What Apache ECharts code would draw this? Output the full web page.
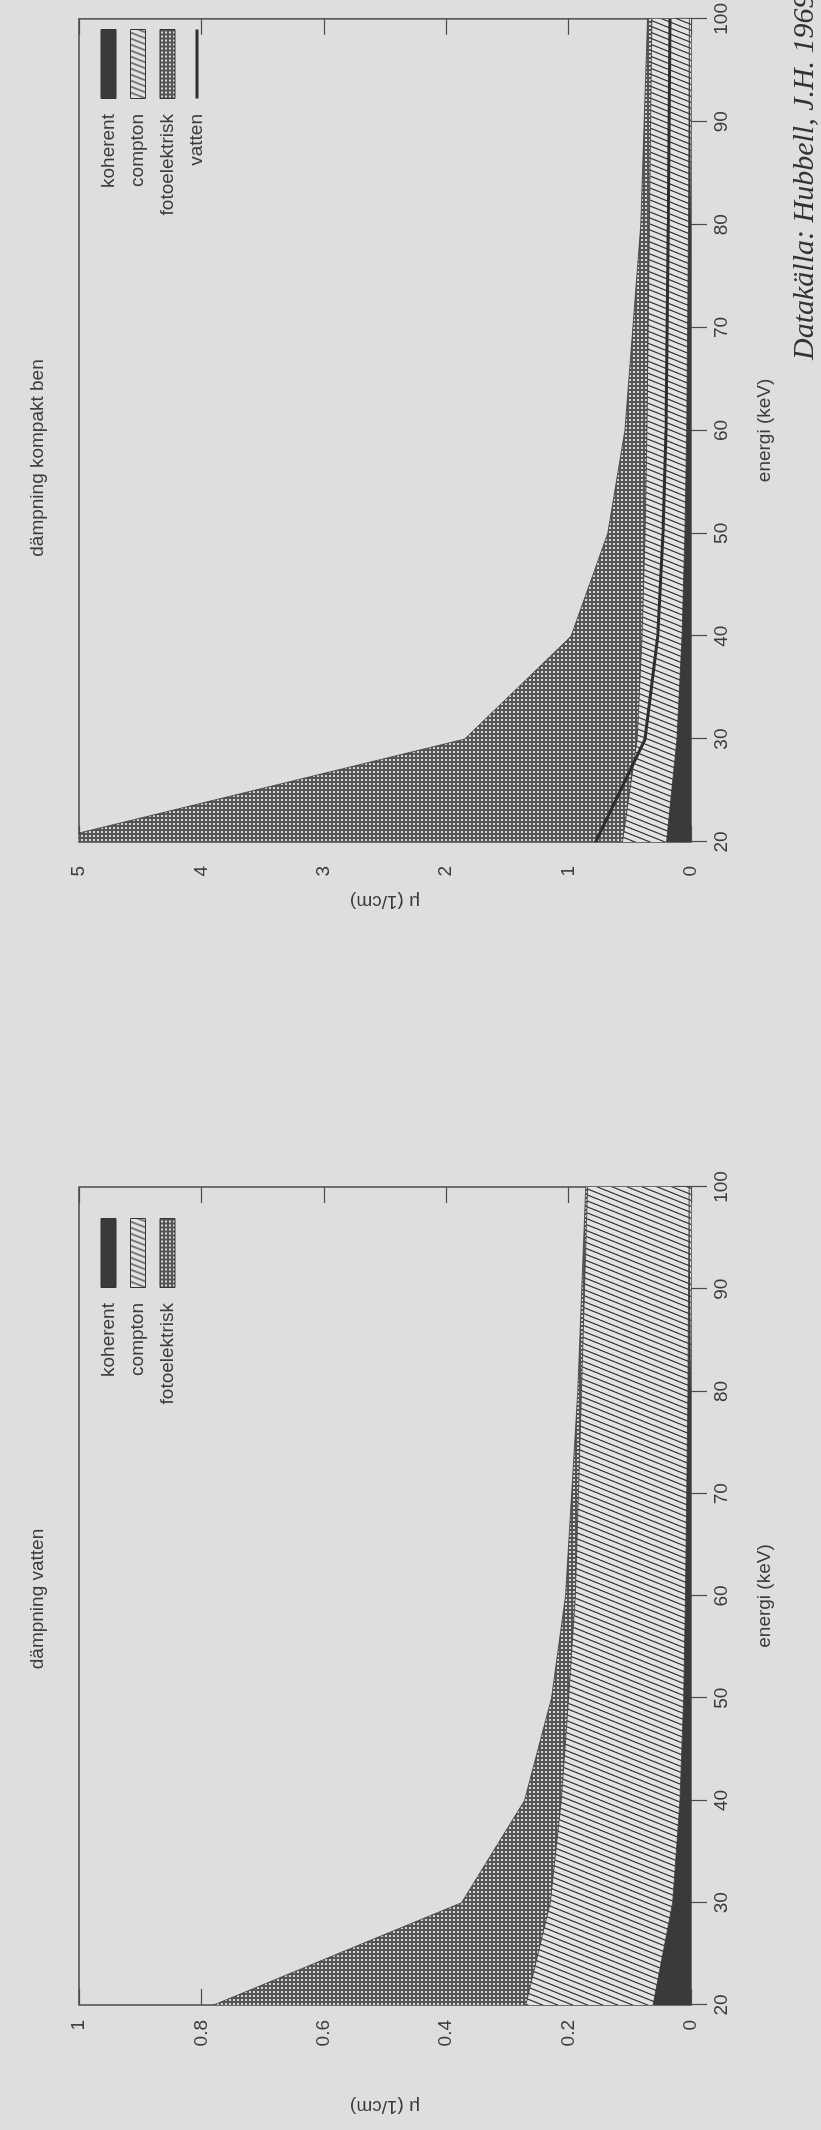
<!DOCTYPE html>
<html><head><meta charset="utf-8">
<script src="https://cdn.jsdelivr.net/npm/echarts@6/dist/echarts.min.js"></script>
<style>
html,body{margin:0;padding:0;width:821px;height:2130px;overflow:hidden;background:#dcdee0;}
#rot{position:absolute;left:0;top:0;width:2130px;height:821px;transform-origin:0 0;transform:translate(0px,2130px) rotate(-90deg);}
</style></head><body>
<div id="rot"></div>
<script>
// energies (keV)
const energi = [20, 30, 40, 50, 60, 80, 100];
// water (1/cm)
const vattenKoherent = [0.062, 0.030, 0.018, 0.012, 0.009, 0.005, 0.003];
const vattenCompton  = [0.208, 0.200, 0.194, 0.188, 0.180, 0.174, 0.166];
const vattenFoto     = [0.510, 0.145, 0.060, 0.028, 0.016, 0.006, 0.003];
// compact bone (1/cm)
const benKoherent = [0.200, 0.115, 0.073, 0.050, 0.035, 0.020, 0.013];
const benCompton  = [0.360, 0.325, 0.327, 0.325, 0.325, 0.320, 0.307];
const benFoto     = [4.740, 1.410, 0.580, 0.305, 0.180, 0.070, 0.035];
const vattenTotal = [0.780, 0.375, 0.272, 0.228, 0.205, 0.185, 0.172];
const titles = ['dämpning vatten', 'dämpning kompakt ben'];
const legendNames = ['koherent', 'compton', 'fotoelektrisk', 'vatten'];

function hatch() {
  const c = document.createElement('canvas'); c.width = 6; c.height = 15;
  const g = c.getContext('2d');
  g.fillStyle = '#e2e3e4'; g.fillRect(0, 0, 6, 15);
  g.strokeStyle = '#2e2e2e'; g.lineWidth = 1.2;
  for (const o of [-6, 0, 6]) { g.beginPath(); g.moveTo(o, 15); g.lineTo(o + 6, 0); g.stroke(); }
  return { image: c, repeat: 'repeat' };
}
function dots() {
  const c = document.createElement('canvas'); c.width = 4; c.height = 4;
  const g = c.getContext('2d');
  g.fillStyle = '#555'; g.fillRect(0, 0, 4, 4);
  g.fillStyle = '#d6d6d6'; g.fillRect(1, 1, 2, 2);
  return { image: c, repeat: 'repeat' };
}
const patC = hatch(), patF = dots();
const KOH = '#3a3a3a';
const FONT = '"Liberation Sans", Arial, sans-serif';
const TXT = '#3c3c3c';
// stacked band tops (sums of the read components)
const cum = (...arrs) => energi.map((e, i) => arrs.reduce((s, a) => s + a[i], 0));
const pairs = (a) => energi.map((e, i) => [e, a[i]]);

const grids = [
  { left: 125, right: 1187, top: 79, bottom: 130, show: true, borderColor: '#4a4a4a', borderWidth: 1.5, backgroundColor: 'transparent' },
  { left: 1288, right: 2, top: 79, bottom: 130, show: true, borderColor: '#4a4a4a', borderWidth: 1.5, backgroundColor: 'transparent' }
];
function xAx(gi, pos) {
  const main = pos === 'bottom';
  return { type: 'value', gridIndex: gi, position: pos, min: 20, max: 100, interval: 10,
    axisLine: { show: false }, splitLine: { show: false },
    axisTick: { show: true, inside: true, length: 16, lineStyle: { color: '#4a4a4a', width: 1.2 } },
    axisLabel: { show: main, margin: 21, fontSize: 19, color: TXT, fontFamily: FONT },
    name: main ? 'energi (keV)' : '', nameLocation: 'middle', nameGap: 64,
    nameTextStyle: { fontSize: 19, color: TXT, fontFamily: FONT } };
}
function yAx(gi, pos, max, interval, gap, margin) {
  const main = pos === 'left';
  return { type: 'value', gridIndex: gi, position: pos, min: 0, max: max, interval: interval,
    axisLine: { show: false }, splitLine: { show: false },
    axisTick: { show: true, inside: true, length: 16, lineStyle: { color: '#4a4a4a', width: 1.2 } },
    axisLabel: { show: main, margin: margin, fontSize: 19, color: TXT, fontFamily: FONT },
    name: main ? 'μ (1/cm)' : '', nameLocation: 'middle', nameGap: gap,
    nameTextStyle: { fontSize: 19, color: TXT, fontFamily: FONT } };
}
function area(name, data, gi, color) {
  return { name: name, type: 'line', xAxisIndex: gi * 2, yAxisIndex: gi * 2,
    data: pairs(data), symbol: 'none', lineStyle: { width: 0.8, color: '#3a3a3a' },
    itemStyle: { color: typeof color === 'string' ? color : '#888' },
    areaStyle: { color: color, opacity: 1 }, emphasis: { disabled: true } };
}
function legend(right, names) {
  const data = [
    { name: 'koherent', icon: 'rect', itemStyle: { color: KOH, borderColor: '#333', borderWidth: 1 } },
    { name: 'compton', icon: 'rect', itemStyle: { color: patC, borderColor: '#333', borderWidth: 1 } },
    { name: 'fotoelektrisk', icon: 'rect', itemStyle: { color: patF, borderColor: '#333', borderWidth: 1 } },
    { name: 'vatten', itemStyle: { color: 'rgba(0,0,0,0)', borderWidth: 0, opacity: 0 },
      lineStyle: { width: 3, color: '#2e2e2e' } }
  ].filter(d => names.indexOf(d.name) >= 0);
  return { orient: 'vertical', align: 'right', right: right, top: 99, padding: 0,
    itemWidth: 69, itemHeight: 15, itemGap: 10.5, selectedMode: false,
    formatter: '{name}  ',
    textStyle: { fontSize: 19, color: TXT, fontFamily: FONT },
    data: data };
}

const chart = echarts.init(document.getElementById('rot'), null, { renderer: 'canvas', width: 2130, height: 821 });
chart.setOption({
  animation: false,
  backgroundColor: 'transparent',
  title: [
    { text: titles[0], left: 531, top: 28, textAlign: 'center', padding: 0, textStyle: { fontSize: 19, fontWeight: 'normal', color: TXT, fontFamily: FONT } },
    { text: titles[1], left: 1672, top: 28, textAlign: 'center', padding: 0, textStyle: { fontSize: 19, fontWeight: 'normal', color: TXT, fontFamily: FONT } }
  ],
  grid: grids,
  xAxis: [xAx(0, 'bottom'), xAx(0, 'top'), xAx(1, 'bottom'), xAx(1, 'top')],
  yAxis: [yAx(0, 'left', 1, 0.2, 92, 15), yAx(0, 'right', 1, 0.2, 0, 15), yAx(1, 'left', 5, 1, 50, 24), yAx(1, 'right', 5, 1, 0, 24)],
  legend: [legend(1218, legendNames.slice(0, 3)), legend(28, legendNames)],
  series: [
    area('fotoelektrisk', cum(vattenKoherent, vattenCompton, vattenFoto), 0, patF),
    area('compton', cum(vattenKoherent, vattenCompton), 0, patC),
    area('koherent', vattenKoherent, 0, KOH),
    area('fotoelektrisk', cum(benKoherent, benCompton, benFoto), 1, patF),
    area('compton', cum(benKoherent, benCompton), 1, patC),
    area('koherent', benKoherent, 1, KOH),
    { name: 'vatten', type: 'line', xAxisIndex: 2, yAxisIndex: 2, data: pairs(vattenTotal), symbol: 'none', z: 5,
      lineStyle: { width: 3, color: '#2e2e2e' }, itemStyle: { color: '#2e2e2e' }, emphasis: { disabled: true } }
  ],
  graphic: [
    { type: 'text', left: 1770, top: 790, style: { text: 'Datakälla: Hubbell, J.H. 1969', font: 'italic 30px "Liberation Serif", "Times New Roman", serif', fill: '#333' } }
  ]
});
</script>
</body></html>
